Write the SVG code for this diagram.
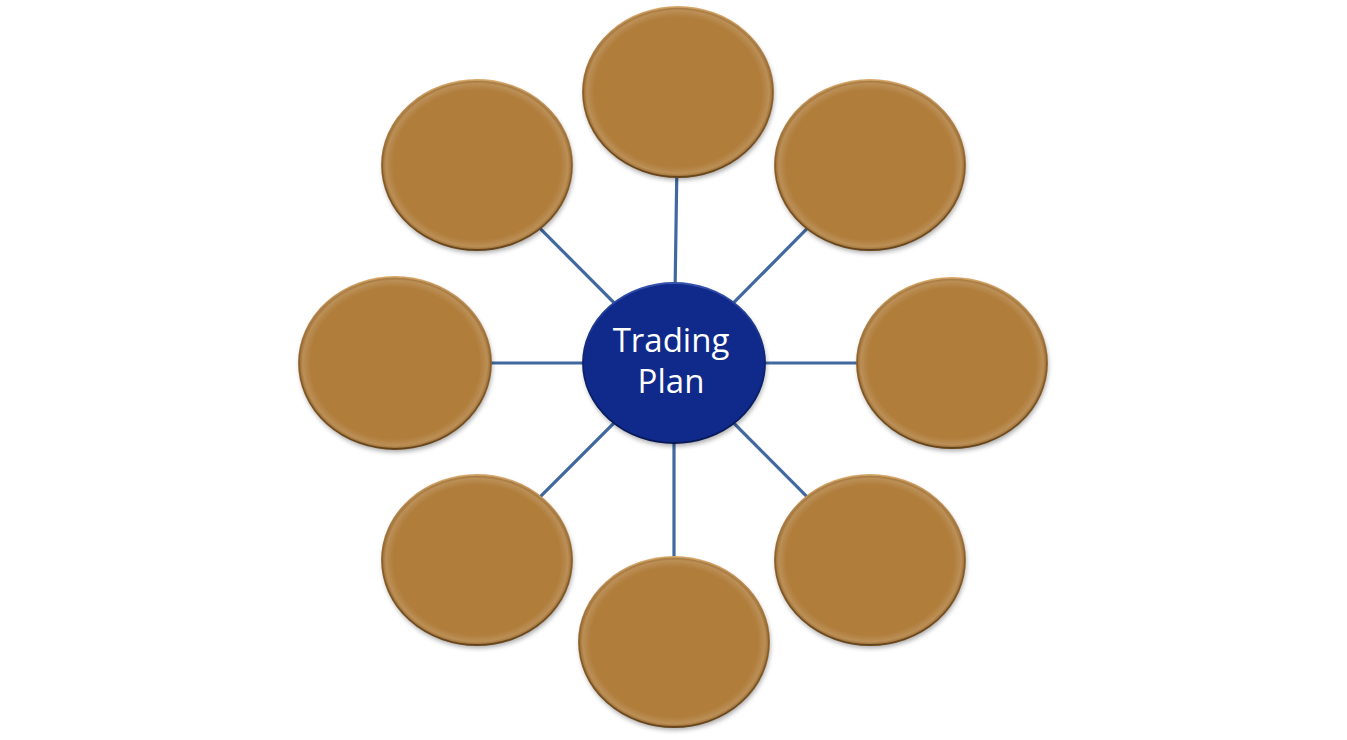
<svg xmlns="http://www.w3.org/2000/svg" width="1347" height="740" viewBox="0 0 1347 740">
<defs>
<filter id="shadow" x="-20%" y="-20%" width="140%" height="140%">
<feGaussianBlur stdDeviation="2.5"/>
</filter>
<radialGradient id="bevelBrown" cx="0.5" cy="0.5" r="0.5">
<stop offset="0" stop-color="#fff" stop-opacity="0"/>
<stop offset="0.88" stop-color="#fff" stop-opacity="0"/>
<stop offset="0.96" stop-color="#fff" stop-opacity="0.14"/>
<stop offset="1" stop-color="#000" stop-opacity="0.1"/>
</radialGradient>
<linearGradient id="rim" x1="0" y1="0" x2="0" y2="1">
<stop offset="0" stop-color="#d9a868"/>
<stop offset="0.5" stop-color="#94652c"/>
<stop offset="1" stop-color="#6a461b"/>
</linearGradient>
<linearGradient id="rimBlue" x1="0" y1="0" x2="0" y2="1">
<stop offset="0" stop-color="#3552ac"/>
<stop offset="0.5" stop-color="#0b2274"/>
<stop offset="1" stop-color="#071856"/>
</linearGradient>
</defs>
<style>
.conn line { stroke: #41699F; stroke-width: 3.2; }
.sh { fill: #000; opacity: 0.35; filter: url(#shadow); }
.outer { fill: #B07D3B; stroke: url(#rim); stroke-width: 1.8; }
.bev { fill: url(#bevelBrown); }
.center { fill: #0F2A8A; stroke: url(#rimBlue); stroke-width: 1.8; }
.lbl { font-family: "Open Sans", "Liberation Sans", sans-serif; font-size: 33px; fill: #fff; text-anchor: middle; }
</style>
<rect width="1347" height="740" fill="#fff"/>
<g id="connectors" class="conn">
<line x1="674" y1="363" x2="678" y2="92"/>
<line x1="674" y1="363" x2="870" y2="165"/>
<line x1="674" y1="363" x2="952" y2="363"/>
<line x1="674" y1="363" x2="870" y2="560"/>
<line x1="674" y1="363" x2="674" y2="642"/>
<line x1="674" y1="363" x2="477" y2="560"/>
<line x1="674" y1="363" x2="395" y2="363"/>
<line x1="674" y1="363" x2="477" y2="165"/>
</g>
<g id="node-top">
<ellipse class="sh" cx="679" cy="95" rx="95" ry="85"/>
<ellipse class="outer" cx="678" cy="92" rx="95" ry="85"/>
<ellipse class="bev" cx="678" cy="92" rx="95" ry="85"/>
</g>
<g id="node-top-right">
<ellipse class="sh" cx="871" cy="168" rx="95" ry="85"/>
<ellipse class="outer" cx="870" cy="165" rx="95" ry="85"/>
<ellipse class="bev" cx="870" cy="165" rx="95" ry="85"/>
</g>
<g id="node-right">
<ellipse class="sh" cx="953" cy="366" rx="95" ry="85"/>
<ellipse class="outer" cx="952" cy="363" rx="95" ry="85"/>
<ellipse class="bev" cx="952" cy="363" rx="95" ry="85"/>
</g>
<g id="node-bottom-right">
<ellipse class="sh" cx="871" cy="563" rx="95" ry="85"/>
<ellipse class="outer" cx="870" cy="560" rx="95" ry="85"/>
<ellipse class="bev" cx="870" cy="560" rx="95" ry="85"/>
</g>
<g id="node-bottom">
<ellipse class="sh" cx="675" cy="645" rx="95" ry="85"/>
<ellipse class="outer" cx="674" cy="642" rx="95" ry="85"/>
<ellipse class="bev" cx="674" cy="642" rx="95" ry="85"/>
</g>
<g id="node-bottom-left">
<ellipse class="sh" cx="478" cy="563" rx="95" ry="85"/>
<ellipse class="outer" cx="477" cy="560" rx="95" ry="85"/>
<ellipse class="bev" cx="477" cy="560" rx="95" ry="85"/>
</g>
<g id="node-left">
<ellipse class="sh" cx="396" cy="366" rx="96" ry="86"/>
<ellipse class="outer" cx="395" cy="363" rx="96" ry="86"/>
<ellipse class="bev" cx="395" cy="363" rx="96" ry="86"/>
</g>
<g id="node-top-left">
<ellipse class="sh" cx="478" cy="168" rx="95" ry="85"/>
<ellipse class="outer" cx="477" cy="165" rx="95" ry="85"/>
<ellipse class="bev" cx="477" cy="165" rx="95" ry="85"/>
</g>
<g id="node-center">
<ellipse class="sh" cx="675" cy="366" rx="91" ry="80"/>
<ellipse class="center" cx="674" cy="363" rx="91" ry="80"/>
<text class="lbl" x="671" y="352">Trading</text>
<text class="lbl" x="671" y="393">Plan</text>
</g>
</svg>
